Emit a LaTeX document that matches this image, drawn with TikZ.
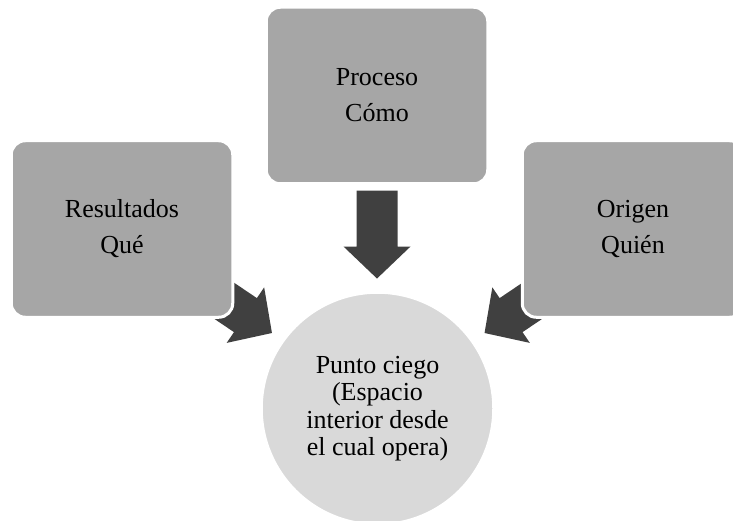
\documentclass[tikz,border=0pt]{standalone}
\usepackage{fontspec}
\setmainfont{Liberation Serif}
\usetikzlibrary{backgrounds,calc}
\definecolor{boxgray}{HTML}{A6A6A6}
\definecolor{circgray}{HTML}{D9D9D9}
\definecolor{arrowdark}{HTML}{404040}
\tikzset{
  box/.style={rectangle, rounded corners=14pt, fill=boxgray, draw=white, line width=3pt,
    minimum width=221.5pt, minimum height=176.5pt, inner sep=0pt, align=center,
    font=\fontsize{26}{36}\selectfont},
  hub/.style={circle, fill=circgray, draw=white, line width=3pt, minimum size=232.5pt,
    inner sep=0pt, align=center, font=\fontsize{26}{27.5}\selectfont},
  blockarrow/.pic={\fill[arrowdark] (0,-20.5) -- (56,-20.5) -- (56,-33.5) -- (88,0)
    -- (56,33.5) -- (56,20.5) -- (0,20.5) -- cycle;}
}
\begin{document}
\begin{tikzpicture}[x=1pt,y=-1pt]
\useasboundingbox (0,0) rectangle (733,521);
\node[box] (proceso) at (377,95.5) {Proceso\\Cómo};
\node[box] (resultados) at (122,229) {Resultados\\Qué};
\node[box] (origen) at (633,229) {Origen\\Quién};
\node[hub] (punto) at (377.5,408.5) {Punto ciego\\(Espacio\\interior desde\\el cual opera)};
\begin{scope}[on background layer]
  \pic[rotate=-90] at ($(proceso.south)+(0,5.3)$) {blockarrow};
  \pic[rotate=-34] at ($(resultados.center)+(77,54.8)$) {blockarrow};
  \pic[rotate=-146] at ($(origen.center)+(-75.5,54.8)$) {blockarrow};
\end{scope}
\end{tikzpicture}
\end{document}
